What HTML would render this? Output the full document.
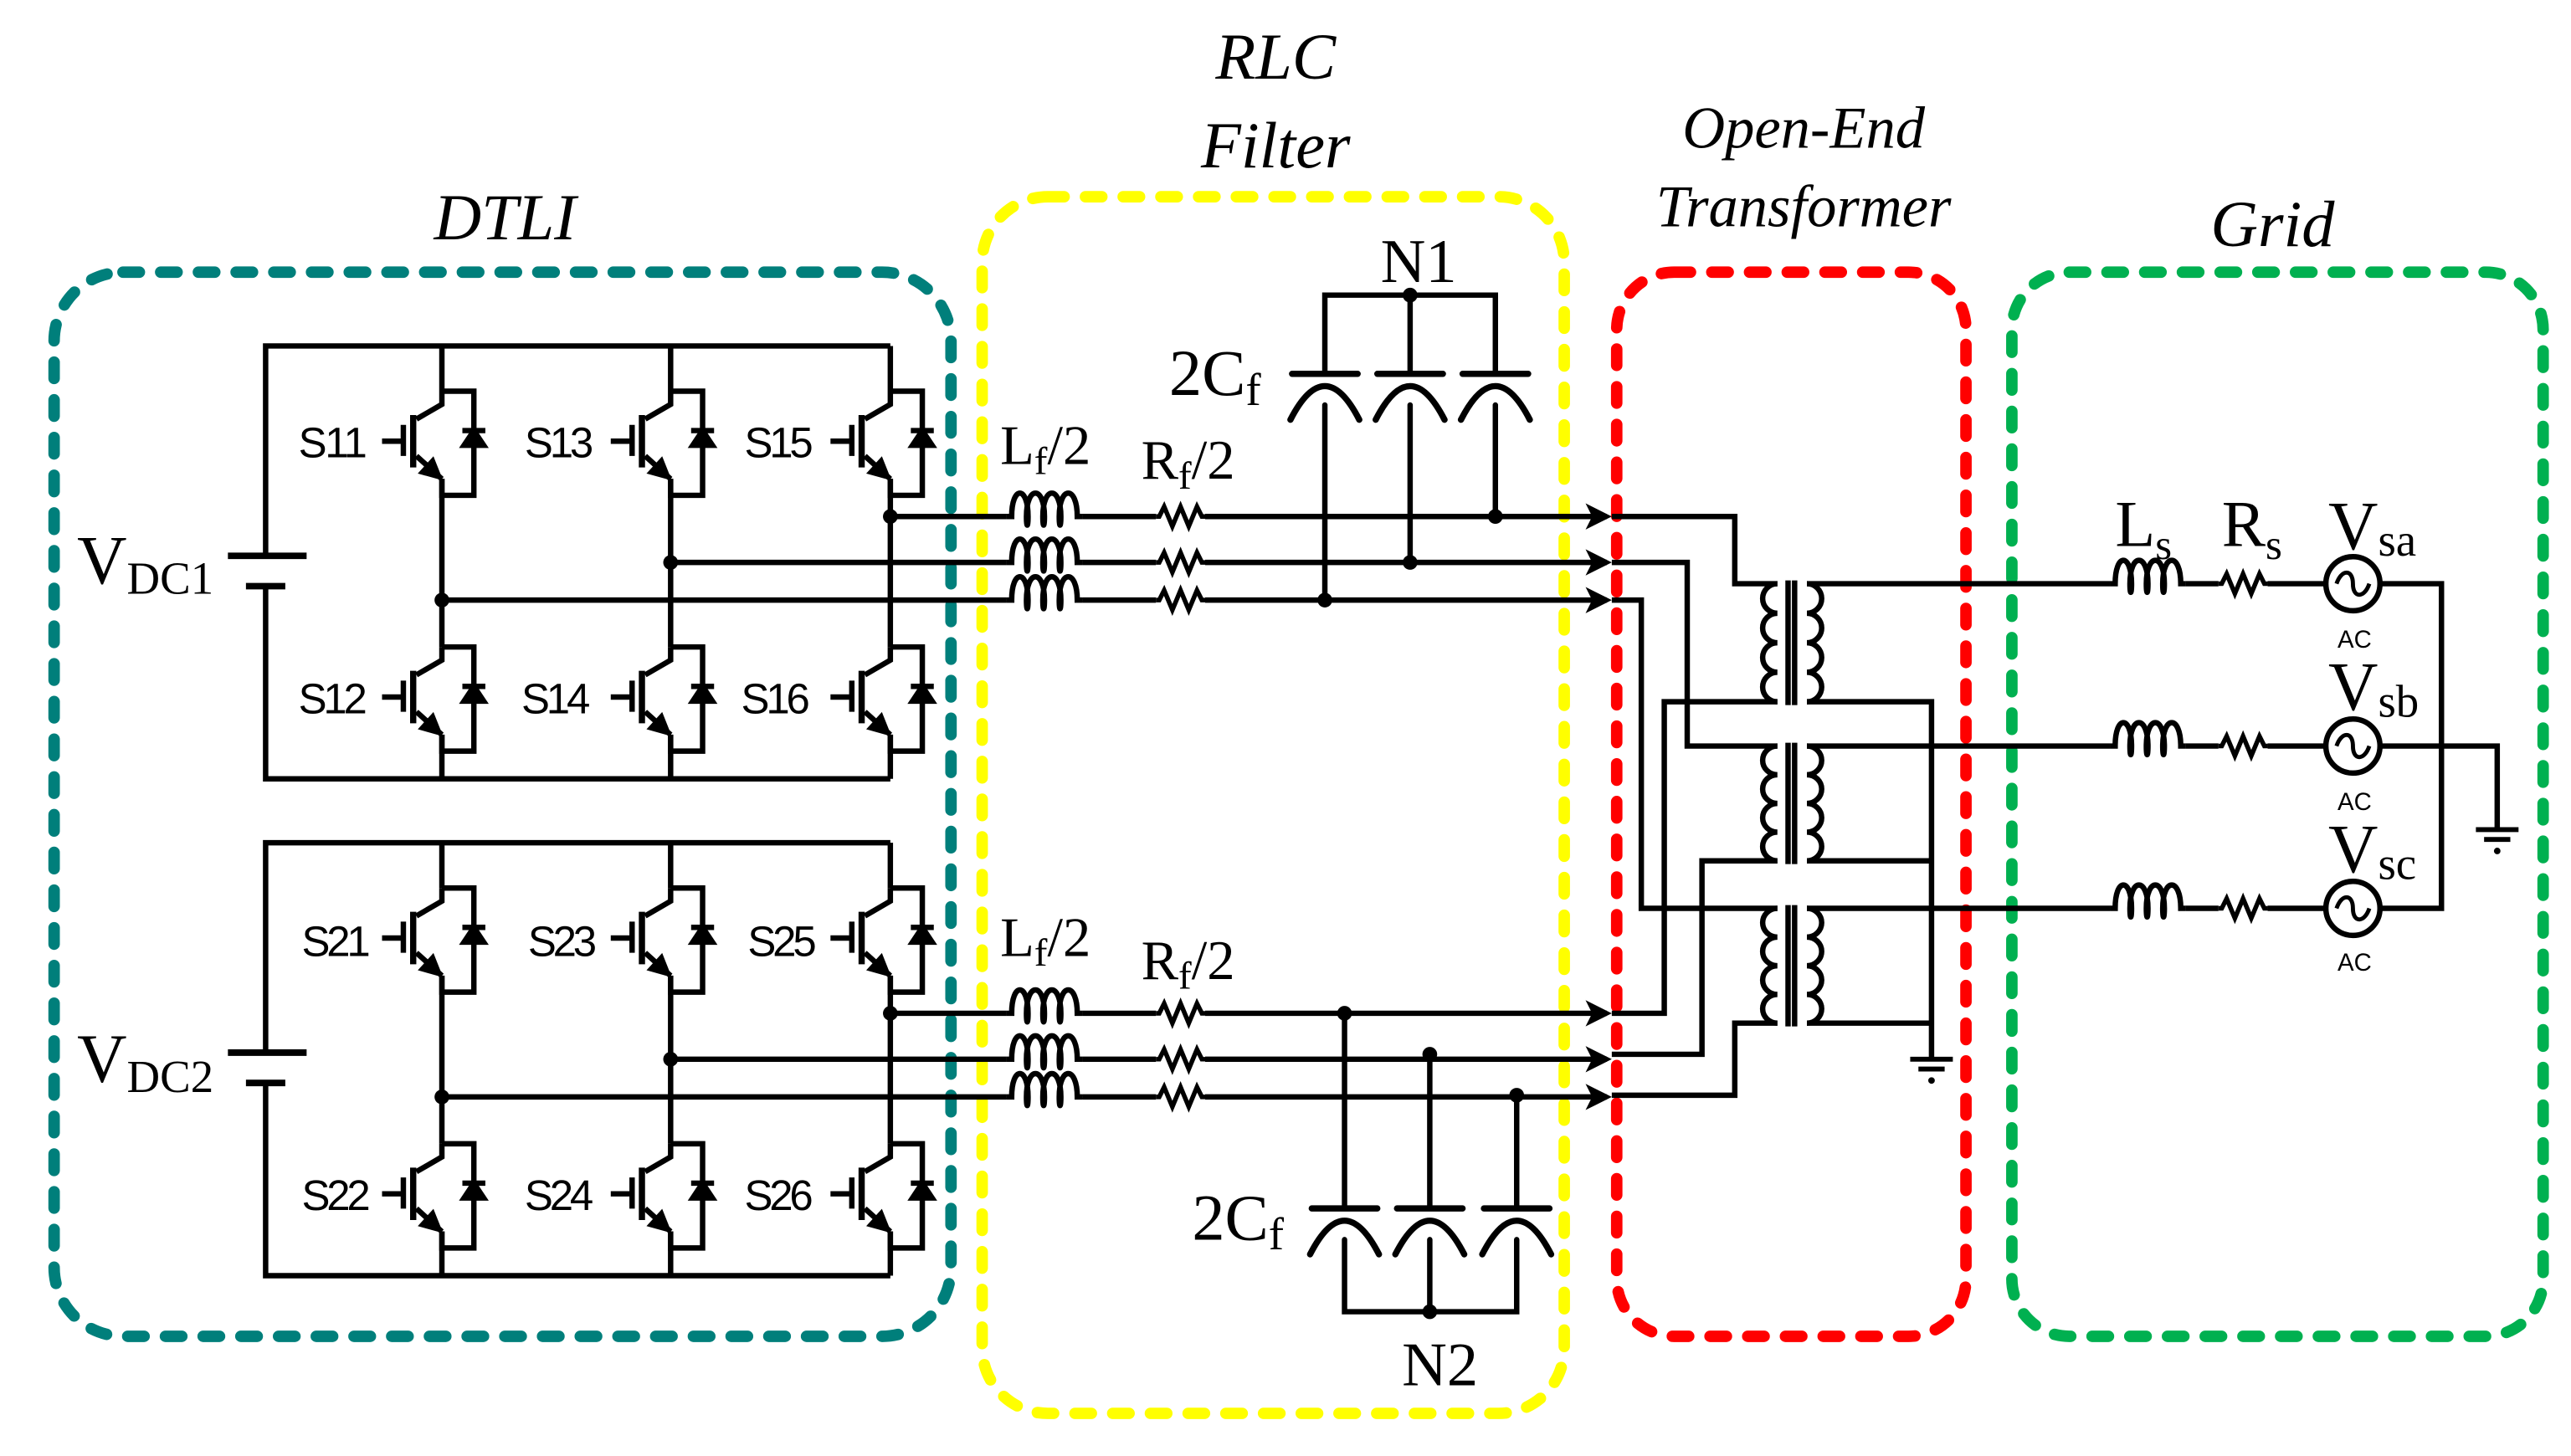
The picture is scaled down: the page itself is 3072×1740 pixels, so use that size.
<!DOCTYPE html>
<html><head><meta charset="utf-8"><style>
html,body{margin:0;padding:0;background:#fff;}
svg{display:block;}
text{font-family:"Liberation Serif",serif;fill:#000;}
.s{font-family:"Liberation Sans",sans-serif;}
</style></head><body>
<svg width="3072" height="1740" viewBox="0 0 1568 888" preserveAspectRatio="none" xmlns="http://www.w3.org/2000/svg">
<defs>
<g id="sw" fill="none" stroke="#000" stroke-width="3.3">
  <path d="M0,0 V8 L-15.5,17"/>
  <path d="M-17.5,14.5 V46.5" stroke-width="3.8"/>
  <path d="M-23.5,20.5 V39.5"/>
  <path d="M-36.5,30.5 H-23.5"/>
  <path d="M-15.5,39.5 L0,53.5"/>
  <path d="M0,0 H19.5 V63.5 H0 V53.5"/>
  <path d="M-2,52 L-5.7,42.7 L-11.7,49.3 Z" fill="#000"/>
  <path d="M13.5,33 H25.5 L19.5,24 Z" fill="#000"/>
  <path d="M12.5,24 H26.5"/>
</g>
<path id="coil" d="M0,0 H3 c0,-19 10,-19 10,0 c0,7 -1,7 -1,0 c0,-19 11,-19 11,0 c0,7 -1,7 -1,0 c0,-19 11,-19 11,0 c0,7 -1,7 -1,0 c0,-19 11,-19 11,0 H46" fill="none" stroke="#000" stroke-width="3.3"/>
<path id="res" d="M0,0 H2 L5,-6 L10,6 L15,-6 L20,6 L25,-6 L28,0 H30" fill="none" stroke="#000" stroke-width="2.8"/>
<path id="arr" d="M-16,-8 L0,0 L-16,8 L-12,0 Z" fill="#000"/>
<g id="gnd" stroke="#000" stroke-width="3"><path d="M-13,0 H13 M-8,6 H8"/><circle cx="0" cy="13" r="2" fill="#000" stroke="none"/></g>
</defs>

<g fill="none" stroke-width="7" stroke-linecap="round" stroke-dasharray="10 13">
<rect x="33" y="166" width="547" height="649" rx="42" stroke="#007f7b"/>
<rect x="599" y="120" width="355" height="742" rx="40" stroke="#ffff00"/>
<rect x="986" y="166" width="213" height="649" rx="35" stroke="#ff0000"/>
<rect x="1227" y="166" width="324" height="649" rx="35" stroke="#00b050"/>
</g>

<text x="308" y="146" font-size="40" font-style="italic" text-anchor="middle">DTLI</text>
<text x="778" y="48" font-size="40" font-style="italic" text-anchor="middle">RLC</text>
<text x="778" y="102" font-size="40" font-style="italic" text-anchor="middle">Filter</text>
<text x="1100" y="90" font-size="36" font-style="italic" text-anchor="middle">Open-End</text>
<text x="1100" y="138" font-size="36" font-style="italic" text-anchor="middle">Transformer</text>
<text x="1386" y="150" font-size="40" font-style="italic" text-anchor="middle">Grid</text>

<g id="inv">
<g fill="none" stroke="#000" stroke-width="3.3">
<path d="M162,339 V211 H543"/>
<path d="M162,357 V475 H543"/>
<path d="M139,339 H187" stroke-width="4"/>
<path d="M150,357.5 H174" stroke-width="4"/>
<path d="M269.5,211 V238.6 M269.5,292 V394.6 M269.5,448 V475"/>
<path d="M409,211 V238.6 M409,292 V394.6 M409,448 V475"/>
<path d="M543,211 V238.6 M543,292 V394.6 M543,448 V475"/>
</g>
<use href="#sw" x="269.5" y="238.6"/><use href="#sw" x="409" y="238.6"/><use href="#sw" x="543" y="238.6"/>
<use href="#sw" x="269.5" y="394.6"/><use href="#sw" x="409" y="394.6"/><use href="#sw" x="543" y="394.6"/>
<circle cx="269.5" cy="366" r="4.5"/><circle cx="409" cy="343" r="4.5"/><circle cx="543" cy="315" r="4.5"/>
<g fill="none" stroke="#000" stroke-width="3.3">
<path d="M543,315 H614 M660,315 H705 M735,315 H980"/>
<path d="M409,343 H614 M660,343 H705 M735,343 H980"/>
<path d="M269.5,366 H614 M660,366 H705 M735,366 H980"/>
</g>
<use href="#coil" x="614" y="315"/><use href="#coil" x="614" y="343"/><use href="#coil" x="614" y="366"/>
<use href="#res" x="705" y="315"/><use href="#res" x="705" y="343"/><use href="#res" x="705" y="366"/>
<use href="#arr" x="983" y="315"/><use href="#arr" x="983" y="343"/><use href="#arr" x="983" y="366"/>
</g>
<use href="#inv" x="0" y="303"/>

<g class="s" font-size="26">
<text class="s" x="182" y="279" textLength="42">S11</text>
<text class="s" x="320" y="279" textLength="42">S13</text>
<text class="s" x="454" y="279" textLength="42">S15</text>
<text class="s" x="182" y="435" textLength="42">S12</text>
<text class="s" x="318" y="435" textLength="42">S14</text>
<text class="s" x="452" y="435" textLength="42">S16</text>
<text class="s" x="184" y="583" textLength="42">S21</text>
<text class="s" x="322" y="583" textLength="42">S23</text>
<text class="s" x="456" y="583" textLength="42">S25</text>
<text class="s" x="184" y="738" textLength="42">S22</text>
<text class="s" x="320" y="738" textLength="42">S24</text>
<text class="s" x="454" y="738" textLength="42">S26</text>
</g>
<text x="47" y="356" font-size="42">V<tspan font-size="28" dy="6">DC1</tspan></text>
<text x="47" y="660" font-size="42">V<tspan font-size="28" dy="6">DC2</tspan></text>

<text x="610" y="283" font-size="34">L<tspan font-size="24" dy="6">f</tspan><tspan dy="-6">/2</tspan></text>
<text x="696" y="292" font-size="34">R<tspan font-size="24" dy="6">f</tspan><tspan dy="-6">/2</tspan></text>
<text x="610" y="583" font-size="34">L<tspan font-size="24" dy="6">f</tspan><tspan dy="-6">/2</tspan></text>
<text x="696" y="597" font-size="34">R<tspan font-size="24" dy="6">f</tspan><tspan dy="-6">/2</tspan></text>
<text x="713" y="241" font-size="40">2C<tspan font-size="28" dy="6">f</tspan></text>
<text x="727" y="756" font-size="40">2C<tspan font-size="28" dy="6">f</tspan></text>
<text x="842" y="172" font-size="38">N1</text>
<text x="855" y="845" font-size="38">N2</text>

<g fill="none" stroke="#000" stroke-width="3.3" stroke-linecap="round">
<path d="M808,228 V180 H912 V228 M860,180 V228"/>
<path d="M788,228 H828 M840,228 H880 M892,228 H932" stroke-width="3.8"/>
<path d="M787,256 Q808,215 829,256 M839,256 Q860,215 881,256 M891,256 Q912,215 933,256" stroke-width="3.8"/>
<path d="M808,247 V366 M860,247 V343 M912,247 V315"/>
</g>
<circle cx="860" cy="180" r="4.5"/><circle cx="808" cy="366" r="4.5"/><circle cx="860" cy="343" r="4.5"/><circle cx="912" cy="315" r="4.5"/>
<g fill="none" stroke="#000" stroke-width="3.3" stroke-linecap="round">
<path d="M820,618 V737 M872,643 V737 M925,668 V737"/>
<path d="M800,737 H840 M852,737 H892 M905,737 H945" stroke-width="3.8"/>
<path d="M799,765 Q820,724 841,765 M851,765 Q872,724 893,765 M904,765 Q925,724 946,765" stroke-width="3.8"/>
<path d="M820,756 V800 H925 V756 M872,756 V800"/>
</g>
<circle cx="872" cy="800" r="4.5"/><circle cx="820" cy="618" r="4.5"/><circle cx="872" cy="643" r="4.5"/><circle cx="925" cy="668" r="4.5"/>

<g fill="none" stroke="#000" stroke-width="3.3">
<path d="M983,315 H1058 V356 H1084"/>
<path d="M983,343 H1029 V455 H1084"/>
<path d="M983,366 H1001 V554 H1084"/>
<path d="M983,618 H1015 V428 H1084"/>
<path d="M983,643 H1038 V525 H1084"/>
<path d="M983,668 H1058 V624 H1084"/>
<path d="M1084,356 a9,9 0 0 0 0,18 a9,9 0 0 0 0,18 a9,9 0 0 0 0,18 a9,9 0 0 0 0,18"/>
<path d="M1084,455 a9,8.75 0 0 0 0,17.5 a9,8.75 0 0 0 0,17.5 a9,8.75 0 0 0 0,17.5 a9,8.75 0 0 0 0,17.5"/>
<path d="M1084,554 a9,8.75 0 0 0 0,17.5 a9,8.75 0 0 0 0,17.5 a9,8.75 0 0 0 0,17.5 a9,8.75 0 0 0 0,17.5"/>
<path d="M1102,356 a9,9 0 0 1 0,18 a9,9 0 0 1 0,18 a9,9 0 0 1 0,18 a9,9 0 0 1 0,18"/>
<path d="M1102,455 a9,8.75 0 0 1 0,17.5 a9,8.75 0 0 1 0,17.5 a9,8.75 0 0 1 0,17.5 a9,8.75 0 0 1 0,17.5"/>
<path d="M1102,554 a9,8.75 0 0 1 0,17.5 a9,8.75 0 0 1 0,17.5 a9,8.75 0 0 1 0,17.5 a9,8.75 0 0 1 0,17.5"/>
<path d="M1090.5,354 V430 M1094.5,354 V430 M1090.5,453 V527 M1094.5,453 V527 M1090.5,552 V626 M1094.5,552 V626"/>
<path d="M1102,428 H1178 V645 M1102,525 H1178 M1102,624 H1178"/>
<path d="M1102,356 H1287 M1102,455 H1287 M1102,554 H1287"/>
<path d="M1333,356 H1353 M1383,356 H1418 M1452,356 H1489 V554 H1452 M1383,554 H1418 M1333,554 H1353"/>
<path d="M1333,455 H1353 M1383,455 H1418 M1452,455 H1523 V505"/>
<circle cx="1435" cy="356" r="16.5"/><circle cx="1435" cy="455" r="16.5"/><circle cx="1435" cy="554" r="16.5"/>
<path d="M1425,356 c3,-9 10,-9 10,0 c0,9 7,9 10,0 M1425,455 c3,-9 10,-9 10,0 c0,9 7,9 10,0 M1425,554 c3,-9 10,-9 10,0 c0,9 7,9 10,0" stroke-width="2.5"/>
</g>
<use href="#coil" x="1287" y="356"/><use href="#coil" x="1287" y="455"/><use href="#coil" x="1287" y="554"/>
<use href="#res" x="1353" y="356"/><use href="#res" x="1353" y="455"/><use href="#res" x="1353" y="554"/>
<use href="#gnd" x="1178" y="646"/>
<use href="#gnd" x="1523" y="506"/>

<text x="1290" y="333" font-size="40">L<tspan font-size="26" dy="8">s</tspan></text>
<text x="1355" y="333" font-size="40">R<tspan font-size="26" dy="8">s</tspan></text>
<text x="1420" y="335" font-size="42">V<tspan font-size="28" dy="4">sa</tspan></text>
<text x="1420" y="433" font-size="42">V<tspan font-size="28" dy="4">sb</tspan></text>
<text x="1420" y="532" font-size="42">V<tspan font-size="28" dy="4">sc</tspan></text>
<text class="s" x="1436" y="395" font-size="15" text-anchor="middle">AC</text>
<text class="s" x="1436" y="494" font-size="15" text-anchor="middle">AC</text>
<text class="s" x="1436" y="592" font-size="15" text-anchor="middle">AC</text>
</svg>
</body></html>
